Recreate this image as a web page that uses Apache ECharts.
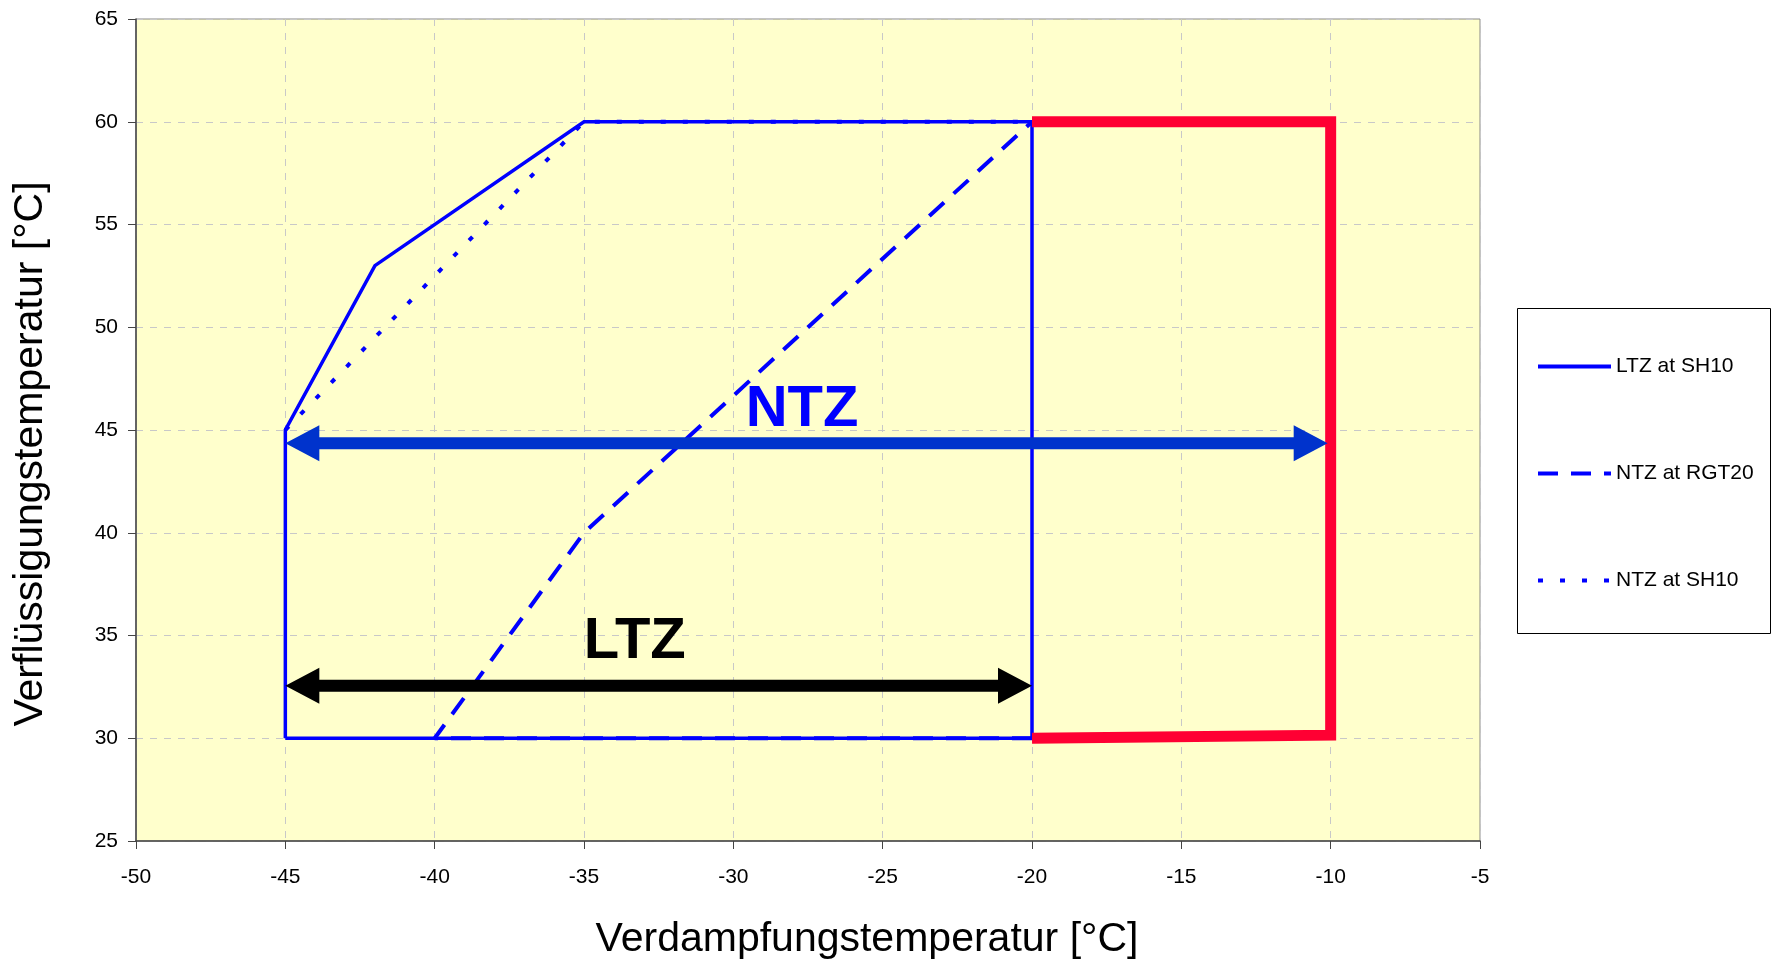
<!DOCTYPE html>
<html>
<head>
<meta charset="utf-8">
<script src="https://cdn.jsdelivr.net/npm/echarts@6/dist/echarts.min.js"></script>
<style>html,body{margin:0;background:#fff}#main{width:1774px;height:965px}</style>
</head>
<body>
<div id="main"></div>
<script>
// Achsen
var xMin = -50, xMax = -5, xStep = 5;
var yMin = 25, yMax = 65, yStep = 5;

// Einsatzgrenzen [Verdampfung, Verflüssigung]
var ltzSH10 = [[-45,30],[-45,45],[-42,53],[-35,60],[-20,60],[-20,30],[-45,30]];
var ntzRGT20 = [[-20,30],[-40,30],[-35,40],[-20,60]];
var ntzSH10 = [[-45,45],[-35,60],[-20,60]];
var ntzExtra = [[-20,60],[-10,60],[-10,30.15],[-20,30]];

// Pfeile: von, bis, Beschriftung
var arrowNames = ['NTZ', 'LTZ'];
var arrowFrom = [[-45,44.35],[-45,32.55]];
var arrowTo = [[-10.1,44.35],[-20,32.55]];
var arrowLabel = [[-27.7,45.95],[-33.3,34.7]];
var arrowColor = ['#0033CC', '#000000'];
var arrowTextColor = ['#0000FF', '#000000'];

var arrowData = arrowNames.map(function (n, i) {
  return [arrowFrom[i][0], arrowFrom[i][1], arrowTo[i][0], arrowTo[i][1], arrowLabel[i][0], arrowLabel[i][1]];
});

var font = 'Liberation Sans';
var chart = echarts.init(document.getElementById('main'));

function renderArrow(params, api) {
  var i = params.dataIndex;
  var a = api.coord([api.value(0), api.value(1)]);
  var b = api.coord([api.value(2), api.value(3)]);
  var t = api.coord([api.value(4), api.value(5)]);
  var y = a[1], x1 = a[0], x2 = b[0];
  var sw = 6, hl = 34, hh = 18;
  return {
    type: 'group',
    children: [{
      type: 'polygon',
      shape: { points: [
        [x1, y], [x1 + hl, y - hh], [x1 + hl, y - sw], [x2 - hl, y - sw], [x2 - hl, y - hh],
        [x2, y], [x2 - hl, y + hh], [x2 - hl, y + sw], [x1 + hl, y + sw], [x1 + hl, y + hh]
      ] },
      style: { fill: arrowColor[i] }
    }, {
      type: 'text',
      x: t[0], y: t[1],
      style: {
        text: arrowNames[i], fill: arrowTextColor[i],
        font: 'bold 58px "Liberation Sans"', align: 'center', verticalAlign: 'middle'
      }
    }]
  };
}

var option = {
  animation: false,
  backgroundColor: '#fff',
  grid: {
    left: 136, right: 294, top: 19, bottom: 122,
    show: true, backgroundColor: '#FFFFCC', borderColor: '#888', borderWidth: 1
  },
  xAxis: {
    type: 'value', min: xMin, max: xMax, interval: xStep,
    name: 'Verdampfungstemperatur [°C]', nameLocation: 'middle', nameGap: 78,
    nameTextStyle: { fontFamily: font, fontSize: 41, color: '#000', padding: [0, 0, 0, 118] },
    axisLine: { onZero: false, lineStyle: { color: '#444', width: 1.5 } },
    axisTick: { show: true, length: 8, lineStyle: { color: '#444' } },
    axisLabel: { fontFamily: font, fontSize: 21, color: '#000', margin: 26 },
    splitLine: { show: true, lineStyle: { color: '#c8c8c8', type: [7, 7], width: 1 } }
  },
  yAxis: {
    type: 'value', min: yMin, max: yMax, interval: yStep,
    name: 'Verflüssigungstemperatur [°C]', nameLocation: 'middle', nameGap: 85,
    nameTextStyle: { fontFamily: font, fontSize: 41, color: '#000', padding: [0, 48, 0, 0] },
    axisLine: { show: true, onZero: false, lineStyle: { color: '#444', width: 1.5 } },
    axisTick: { show: true, length: 8, lineStyle: { color: '#444' } },
    axisLabel: { fontFamily: font, fontSize: 21, color: '#000', margin: 18 },
    splitLine: { show: true, lineStyle: { color: '#c8c8c8', type: [7, 7], width: 1 } }
  },
  legend: {
    orient: 'vertical', left: 1536, top: 356, padding: 0,
    itemWidth: 73, itemHeight: 14, itemGap: 86,
    itemStyle: { opacity: 0 },
    lineStyle: { width: 4 },
    textStyle: { fontFamily: font, fontSize: 21, color: '#000' },
    data: ['LTZ at SH10', 'NTZ at RGT20', 'NTZ at SH10']
  },
  graphic: [{
    type: 'rect', left: 1517, top: 308, z: -1,
    shape: { width: 253, height: 325 },
    style: { fill: '#fff', stroke: '#000', lineWidth: 1 }
  }],
  series: [{
    name: 'LTZ at SH10', type: 'line', data: ltzSH10, symbol: 'none',
    lineStyle: { color: '#0000FF', width: 3.5, join: 'miter' }, itemStyle: { color: '#0000FF' }
  }, {
    name: 'NTZ at RGT20', type: 'line', data: ntzRGT20, symbol: 'none',
    lineStyle: { color: '#0000FF', width: 4, type: [20, 13] }, itemStyle: { color: '#0000FF' }
  }, {
    name: 'NTZ at SH10', type: 'line', data: ntzSH10, symbol: 'none',
    lineStyle: { color: '#0000FF', width: 4, type: [5, 17] }, itemStyle: { color: '#0000FF' }
  }, {
    name: 'NTZ', type: 'line', data: ntzExtra, symbol: 'none',
    lineStyle: { color: '#FF0033', width: 11, join: 'miter', cap: 'butt' }, itemStyle: { color: '#FF0033' }
  }, {
    name: 'Pfeile', type: 'custom', renderItem: renderArrow, data: arrowData,
    encode: { x: [0, 2, 4], y: [1, 3, 5] }, clip: false, z: 5
  }]
};
chart.setOption(option);
</script>
</body>
</html>
